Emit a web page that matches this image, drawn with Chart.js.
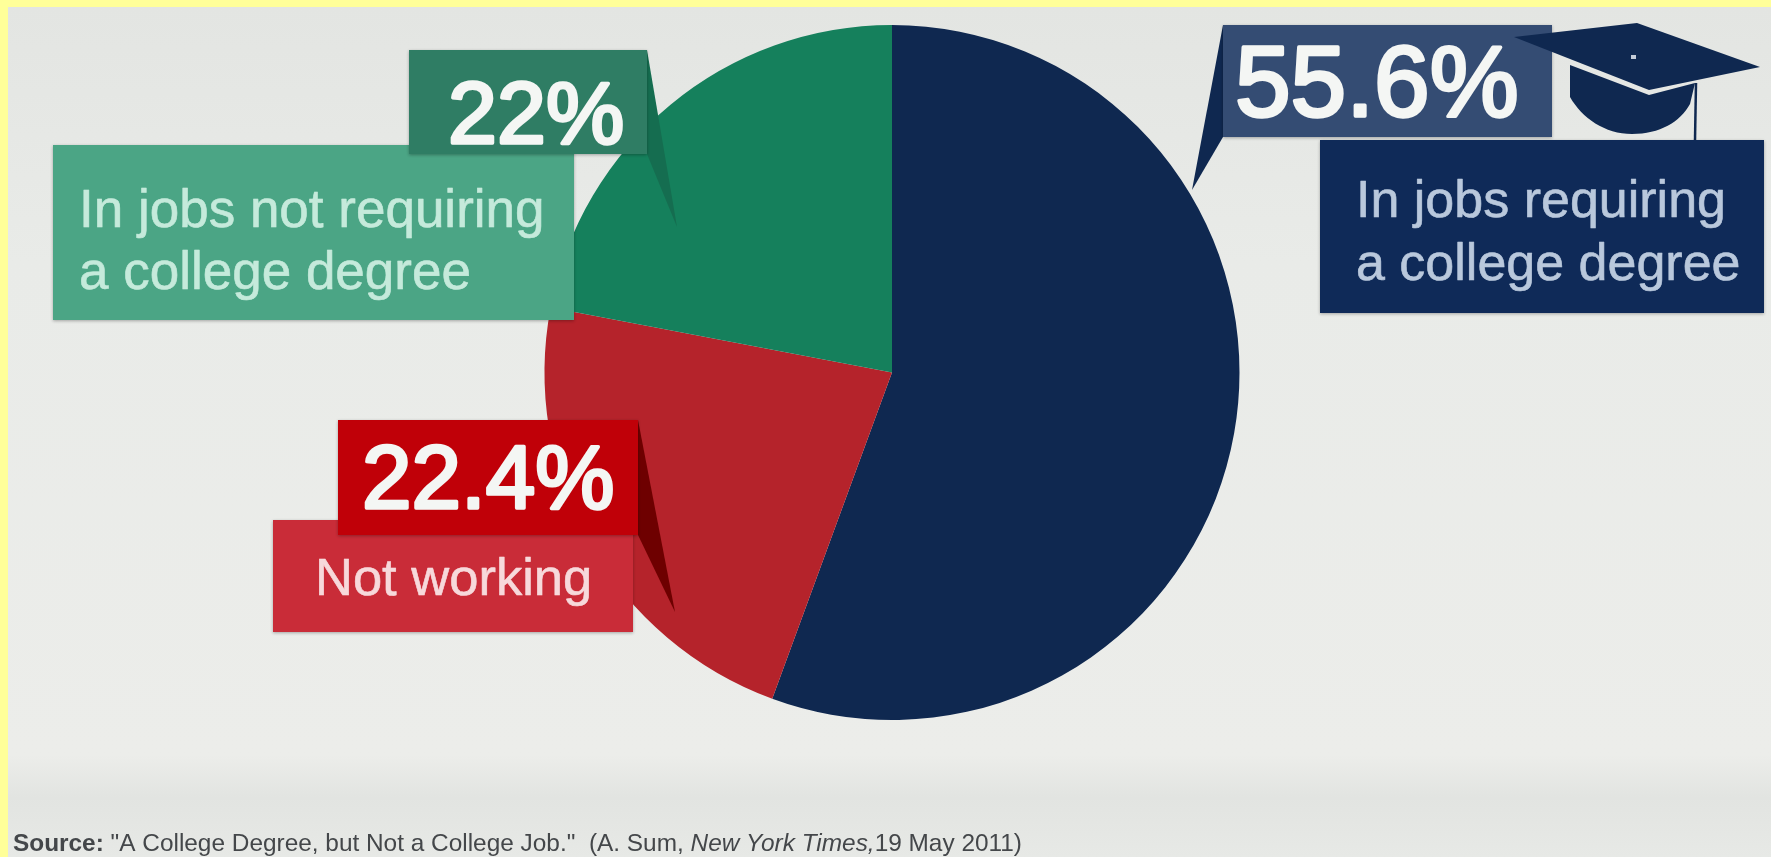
<!DOCTYPE html>
<html>
<head>
<meta charset="utf-8">
<title>College graduates and jobs</title>
<style>
  html, body { margin: 0; padding: 0; background: #ffff99; overflow: hidden; }
  canvas { display: block; }
</style>
<script src="https://cdn.jsdelivr.net/npm/chart.js@4"></script>
</head>
<body>
<canvas id="chart" width="1771" height="857"></canvas>
<script>
const categories = ["In jobs requiring a college degree", "Not working", "In jobs not requiring a college degree"];
const shares = [55.6, 22.4, 22];
const sliceColors = ["#0f2850", "#b5232b", "#15805c"];
const labelLines = [
  ["In jobs requiring", "a college degree"],
  ["Not working"],
  ["In jobs not requiring", "a college degree"],
];

const FONT = '"Liberation Sans", Arial, sans-serif';

// one callout per slice: value flag, fold behind it, description box
const callouts = [
  {
    flag: [1223, 25, 329, 112], flagColor: "#344c73",
    fold: [[1223, 25], [1192, 190], [1223, 137]], foldColor: "#0f2850",
    box: [1320, 140, 444, 173], boxColor: "#0f2a58",
    valueX: 1235, valueY: 116, valueSize: 100,
    textX: 1356, textY: [217, 280], textColor: "#b9c8dc", textSize: 52,
  },
  {
    flag: [338, 420, 300, 115], flagColor: "#c00008",
    fold: [[638, 420], [675, 612], [638, 535]], foldColor: "#6e0000",
    box: [273, 520, 360, 112], boxColor: "#c92c38",
    valueX: 362, valueY: 508, valueSize: 89,
    textX: 315, textY: [595], textColor: "#f7d9db", textSize: 52.5,
  },
  {
    flag: [409, 50, 238, 104], flagColor: "#2f7d64",
    fold: [[647, 50], [677, 227], [647, 154]], foldColor: "#156d50",
    box: [53, 145, 521, 175], boxColor: "#4ba585",
    valueX: 448, valueY: 143, valueSize: 88,
    textX: 79, textY: [227, 289], textColor: "#c5eadb", textSize: 53,
  },
];

function fillPoly(ctx, pts, color) {
  ctx.fillStyle = color;
  ctx.beginPath();
  pts.forEach((p, i) => (i ? ctx.lineTo(p[0], p[1]) : ctx.moveTo(p[0], p[1])));
  ctx.closePath();
  ctx.fill();
}

function fillBox(ctx, r, color) {
  ctx.save();
  ctx.shadowColor = "rgba(0,0,0,0.3)";
  ctx.shadowBlur = 3;
  ctx.shadowOffsetY = 1;
  ctx.fillStyle = color;
  ctx.fillRect(r[0], r[1], r[2], r[3]);
  ctx.restore();
}

// regular face thickened with a stroke, the faces here have no medium weight
function heavyText(ctx, text, x, y, color, weight) {
  ctx.fillStyle = color;
  ctx.strokeStyle = color;
  ctx.lineWidth = weight;
  ctx.lineJoin = "round";
  ctx.fillText(text, x, y);
  ctx.strokeText(text, x, y);
}

// mortarboard next to the biggest share
function drawCap(ctx) {
  const navy = "#0f2850";
  ctx.fillStyle = navy;
  ctx.beginPath();
  ctx.moveTo(1570, 65);
  ctx.lineTo(1649, 95);
  ctx.lineTo(1695, 83);
  ctx.lineTo(1690, 104);
  ctx.bezierCurveTo(1680, 122, 1660, 134, 1632, 134);
  ctx.bezierCurveTo(1605, 134, 1582, 118, 1570, 97);
  ctx.closePath();
  ctx.fill();
  fillPoly(ctx, [[1514, 37], [1637, 23], [1760, 67], [1649, 90]], navy);
  ctx.strokeStyle = navy;
  ctx.lineWidth = 2.5;
  ctx.beginPath();
  ctx.moveTo(1696, 83);
  ctx.lineTo(1695, 140);
  ctx.stroke();
  ctx.fillStyle = "#c4ccd8";
  ctx.fillRect(1631, 55, 5, 4);
}

function drawSource(ctx) {
  const parts = [
    ["bold", "Source:"],
    ["normal", ' "A College Degree, but Not a College Job."  (A. Sum, '],
    ["italic", "New York Times,"],
    ["normal", "19 May 2011)"],
  ];
  let x = 13;
  ctx.fillStyle = "#44474a";
  ctx.textAlign = "left";
  parts.forEach(([style, text]) => {
    ctx.font = `${style} 24.4px ${FONT}`;
    ctx.fillText(text, x, 851);
    x += ctx.measureText(text).width;
  });
}

const backdrop = {
  id: "backdrop",
  beforeDraw(c) {
    const ctx = c.ctx;
    ctx.save();
    ctx.fillStyle = "#ffff99";
    ctx.fillRect(0, 0, 1771, 857);
    const g = ctx.createLinearGradient(0, 7, 0, 857);
    g.addColorStop(0, "#e3e5e2");
    g.addColorStop(0.3, "#e9ebe8");
    g.addColorStop(0.88, "#ecedea");
    g.addColorStop(0.93, "#e2e4e1");
    g.addColorStop(1, "#e7e9e6");
    ctx.fillStyle = g;
    ctx.fillRect(8, 7, 1763, 850);
    ctx.restore();
  },
};

const calloutLayer = {
  id: "calloutLayer",
  afterDraw(c) {
    const ctx = c.ctx;
    ctx.save();
    ctx.textBaseline = "alphabetic";
    callouts.forEach((o, i) => {
      fillPoly(ctx, o.fold, o.foldColor);
      if (i === 0) {
        fillBox(ctx, o.flag, o.flagColor);
        drawCap(ctx);
        fillBox(ctx, o.box, o.boxColor);
      } else {
        fillBox(ctx, o.box, o.boxColor);
        fillBox(ctx, o.flag, o.flagColor);
      }
      ctx.font = `${o.valueSize}px ${FONT}`;
      heavyText(ctx, `${shares[i]}%`, o.valueX, o.valueY, "#f4f6f4", 3.4);
      ctx.font = `${o.textSize}px ${FONT}`;
      labelLines[i].forEach((line, n) => heavyText(ctx, line, o.textX, o.textY[n], o.textColor, 0.6));
    });
    drawSource(ctx);
    ctx.restore();
  },
};

new Chart(document.getElementById("chart"), {
  type: "pie",
  data: {
    labels: categories,
    datasets: [{ data: shares, backgroundColor: sliceColors, borderWidth: 0 }],
  },
  options: {
    responsive: false,
    animation: false,
    layout: { padding: { top: 25, bottom: 137, left: 13, right: 0 } },
    plugins: { legend: { display: false }, tooltip: { enabled: false } },
  },
  plugins: [backdrop, calloutLayer],
});
</script>
</body>
</html>
